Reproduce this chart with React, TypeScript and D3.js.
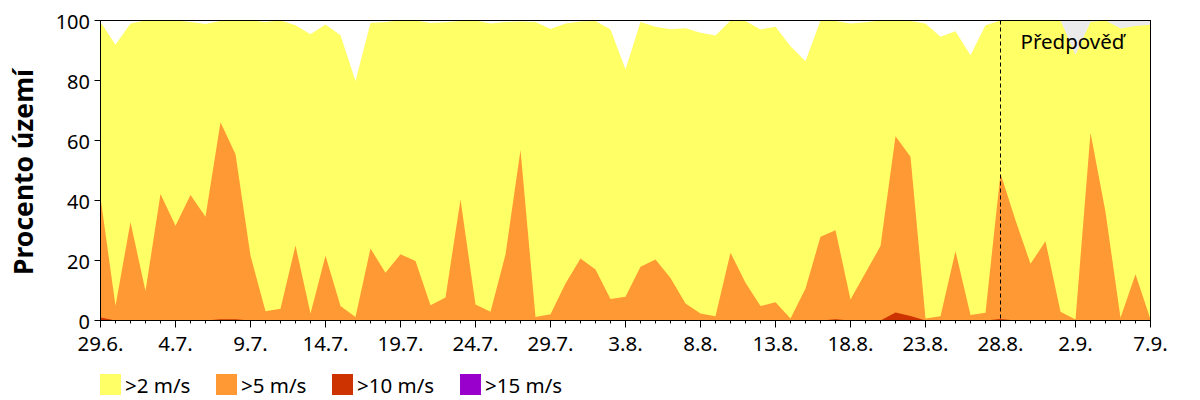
import * as d3 from 'd3'

// percent of territory with wind speed above threshold, 29.6. .. 7.9. (one value per day)
const over2 = [
  99.5, 91.9, 99, 100, 100, 100, 99.5, 98.8, 99.8, 100,
  100, 99.5, 100, 98.4, 95.4, 98.7, 95.1, 79.8, 99.2, 99.5,
  100, 100, 99.2, 99.4, 99.8, 100, 99, 99.5, 99.7, 99.5,
  97.2, 99, 99.7, 99.8, 97, 83.7, 99.5, 97.9, 97.1, 97.4,
  95.9, 95, 100, 99.8, 97, 97.9, 91.4, 86.4, 100, 99.8,
  99, 99.4, 100, 100, 99.8, 99, 94.6, 96.4, 88.4, 98.4,
  100, 100, 100, 100, 100, 88.5, 99.5, 100, 97.3, 98.2,
  98.6,
]
const over5 = [
  41, 4.9, 32.8, 9.8, 42.2, 31.6, 41.8, 34.6, 66.1, 55.4,
  21.6, 3.1, 3.9, 25, 2.3, 21.6, 4.8, 1.2, 24, 15.9,
  22.1, 19.8, 5.1, 7.7, 40.3, 5.3, 2.9, 22, 56.8, 1.2,
  2.1, 12.3, 20.7, 17, 7.2, 7.9, 17.9, 20.3, 14.2, 5.7,
  2.3, 1.4, 22.6, 12.6, 4.8, 6.1, 0.7, 10.7, 27.9, 30.1,
  7, 15.9, 24.8, 61.4, 54.6, 0.7, 1.4, 23.1, 1.8, 2.6,
  49, 33.4, 18.9, 26.4, 2.9, 0.3, 62.6, 36.2, 0.9, 15.4,
  0.3,
]
const over10 = [
  1, 0, 0, 0, 0, 0, 0, 0, 0.4, 0.4,
  0, 0, 0, 0, 0, 0, 0, 0, 0, 0,
  0, 0, 0, 0, 0, 0, 0, 0, 0, 0,
  0, 0, 0, 0, 0, 0, 0, 0, 0, 0,
  0, 0, 0, 0, 0, 0, 0, 0, 0, 0.4,
  0, 0, 0, 2.7, 1.5, 0, 0, 0, 0, 0,
  0.5, 0, 0, 0, 0, 0, 0, 0, 0, 0,
  0,
]
const over15 = [
  0, 0, 0, 0, 0, 0, 0, 0, 0, 0,
  0, 0, 0, 0, 0, 0, 0, 0, 0, 0,
  0, 0, 0, 0, 0, 0, 0, 0, 0, 0,
  0, 0, 0, 0, 0, 0, 0, 0, 0, 0,
  0, 0, 0, 0, 0, 0, 0, 0, 0, 0,
  0, 0, 0, 0, 0, 0, 0, 0, 0, 0,
  0, 0, 0, 0, 0, 0, 0, 0, 0, 0,
  0,
]

const tickLabels = [
  '29.6.', '4.7.', '9.7.', '14.7.', '19.7.', '24.7.', '29.7.', '3.8.',
  '8.8.', '13.8.', '18.8.', '23.8.', '28.8.', '2.9.', '7.9.',
]
const yTicks = [0, 20, 40, 60, 80, 100]
const forecastStart = 60 // 28.8.

const series = [
  { label: '>2 m/s', values: over2, color: '#ffff66' },
  { label: '>5 m/s', values: over5, color: '#ff9933' },
  { label: '>10 m/s', values: over10, color: '#cc3300' },
  { label: '>15 m/s', values: over15, color: '#9900cc' },
]

const font = '"Noto Sans", "Open Sans", sans-serif'

export default function App() {
  const width = 1200
  const height = 400
  const margin = { top: 20.5, right: 49.5, bottom: 79.5, left: 100.5 }
  const innerWidth = width - margin.left - margin.right
  const innerHeight = height - margin.top - margin.bottom

  const nDays = over2.length - 1
  const x = d3.scaleLinear().domain([0, nDays]).range([0, innerWidth])
  const y = d3.scaleLinear().domain([0, 100]).range([innerHeight, 0])

  const area = d3
    .area<number>()
    .x((_, i) => x(i))
    .y0(y(0))
    .y1((d) => y(d))

  const days = d3.range(0, nDays + 1)
  const legendX = [100, 216, 332, 460]

  return (
    <svg
      width={width}
      height={height}
      style={{ position: 'absolute', left: 0, top: 0, display: 'block', background: '#fff' }}
      fontFamily={font}
    >
      <g transform={`translate(${margin.left},${margin.top})`}>
        {/* forecast part: grey background for the remaining share */}
        <rect
          x={x(forecastStart)}
          y={0}
          width={x(nDays) - x(forecastStart)}
          height={innerHeight}
          fill="#ebebeb"
        />
        {series.map((s) => (
          <path key={s.label} d={area(s.values) || ''} fill={s.color} />
        ))}

        <line
          x1={x(forecastStart)}
          x2={x(forecastStart)}
          y1={0}
          y2={innerHeight}
          stroke="#000"
          strokeWidth={1}
          strokeDasharray="4,3"
        />
        <text x={x(forecastStart) + 20} y={28.5} fontSize={20.5} fill="#000">
          Předpověď
        </text>

        {/* frame */}
        <rect
          x={0}
          y={0}
          width={innerWidth}
          height={innerHeight}
          fill="none"
          stroke="#000"
          strokeWidth={1}
        />

        {/* y axis */}
        {yTicks.map((t) => (
          <g key={t}>
            <line x1={-6} x2={0} y1={y(t)} y2={y(t)} stroke="#000" strokeWidth={1} />
            <text
              x={-10.5}
              y={y(t) + 8}
              textAnchor="end"
              fontSize={20}
              fill="#000"
            >
              {t}
            </text>
          </g>
        ))}

        {/* x axis */}
        {days.map((d) => (
          <line
            key={d}
            x1={x(d)}
            x2={x(d)}
            y1={innerHeight}
            y2={innerHeight + (d % 5 === 0 ? 7 : 3)}
            stroke="#000"
            strokeWidth={1}
          />
        ))}
        {tickLabels.map((l, i) => (
          <text
            key={l}
            x={x(i * 5)}
            y={innerHeight + 30.5}
            textAnchor="middle"
            fontSize={20.5}
            fill="#000"
          >
            {l}
          </text>
        ))}
      </g>

      <text
        transform="translate(32.5,172) rotate(-90)"
        textAnchor="middle"
        fontSize={26.5}
        fontWeight="bold"
        fill="#000"
      >
        Procento území
      </text>

      {/* legend */}
      {series.map((s, i) => (
        <g key={s.label} transform={`translate(${legendX[i]},374)`}>
          <rect width={21} height={21} fill={s.color} />
          <text x={25} y={19} fontSize={20.5} fill="#000">
            {s.label}
          </text>
        </g>
      ))}
    </svg>
  )
}
